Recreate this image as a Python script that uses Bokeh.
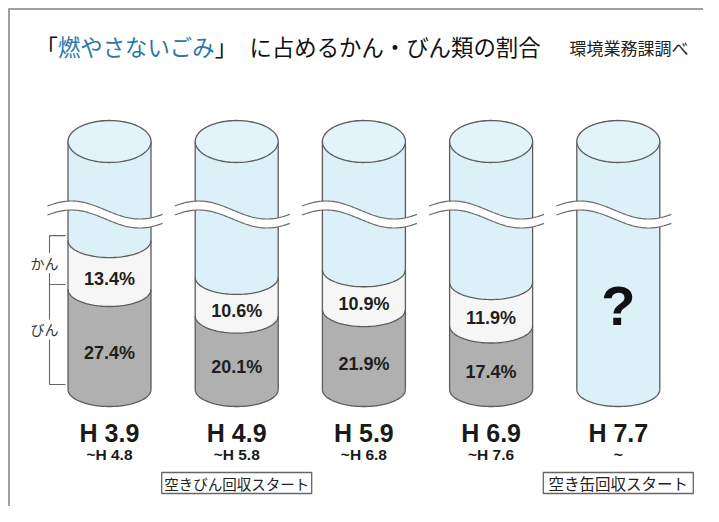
import numpy as np
from bokeh.plotting import figure
from bokeh.models import Range1d
from bokeh.core.properties import value
from bokeh.embed import file_html
from bokeh.resources import INLINE

# ---------------- data ----------------
periods = ["H 3.9", "H 4.9", "H 5.9", "H 6.9", "H 7.7"]
period_ends = ["~H 4.8", "~H 5.8", "~H 6.8", "~H 7.6", "~"]
bin_pct = [27.4, 20.1, 21.9, 17.4]   # びん (bottom, grey)
kan_pct = [13.4, 10.6, 10.9, 11.9]   # かん (middle, white)
notes = ["", "空きびん回収スタート", "", "", "空き缶回収スタート"]
series_labels = ["かん", "びん"]
title_open = "「"
title_blue = "燃やさないごみ"
title_close = "」"
title_rest = "に占めるかん・びん類の割合"
source_text = "環境業務課調べ"
unknown_text = "?"

# ---------------- layout ----------------
W, H = 703, 506
BASE = 389.0   # pixel y of the 0 % level
S = 3.65       # pixels per percent


def V(py):
    return (BASE - np.asarray(py, dtype=float)) / S


JP = value("Noto Sans CJK JP")
NUM = value("Liberation Sans")

BLUE = "#dcf0f8"
TOP_BLUE = "#e2f3fa"
GRAY = "#b0b0b0"
WHITE = "#f6f6f6"
OUT = "#5c5c5c"

p = figure(width=W, height=H, x_range=Range1d(0, W),
           y_range=Range1d(float(V(H)), float(V(0))),
           output_backend="svg", toolbar_location=None, min_border=0,
           x_axis_location=None, y_axis_location=None)
p.grid.visible = False
p.outline_line_color = None
p.background_fill_color = "white"
p.border_fill_color = "white"

CX = [109 + 127.2 * i for i in range(len(periods))]
RX = 41.5
RY = 17.0
RYT = 21.0
VT = float(V(141))
t = np.linspace(0, np.pi, 48)


def front_arc(cx, v, ry=RY):
    return list(cx + RX * np.cos(t)), list(v - (ry / S) * np.sin(t))


body_xs, body_ys = [], []
gray_xs, gray_ys = [], []
white_xs, white_ys = [], []
lxs, lys = [], []
top_xs, top_ys = [], []
wave_xs, wave_ys = [], []
wl_xs, wl_ys = [], []

for i, cx in enumerate(CX):
    ax, ay = front_arc(cx, 0.0)
    body_xs.append(ax + [cx - RX, cx + RX])
    body_ys.append(ay + [VT, VT])
    lxs += [[cx - RX, cx - RX], [cx + RX, cx + RX], ax]
    lys += [[0.0, VT], [0.0, VT], ay]
    if i < len(bin_pct):
        b, k = bin_pct[i], kan_pct[i]
        bx, by = front_arc(cx, b)
        kx, ky = front_arc(cx, b + k)
        gray_xs.append(ax + bx[::-1])
        gray_ys.append(ay + by[::-1])
        white_xs.append(bx + kx[::-1])
        white_ys.append(by + ky[::-1])
        lxs += [bx, kx]
        lys += [by, ky]
    tt = np.linspace(0, 2 * np.pi, 96)
    top_xs.append(list(cx + RX * np.cos(tt)))
    top_ys.append(list(VT + (RYT / S) * np.sin(tt)))
    # wavy break band
    xw = np.linspace(cx - 62, cx + 53, 80)
    yc = 214 - 9 * np.cos(2 * np.pi * (xw - (cx - 38)) / 136)
    up = V(yc - 4.5)
    lo = V(yc + 4.5)
    wave_xs.append(list(xw) + list(xw[::-1]))
    wave_ys.append(list(up) + list(lo[::-1]))
    wl_xs += [list(xw), list(xw)]
    wl_ys += [list(up), list(lo)]

p.patches(body_xs, body_ys, fill_color=BLUE, line_color=None)
p.patches(gray_xs, gray_ys, fill_color=GRAY, line_color=None)
p.patches(white_xs, white_ys, fill_color=WHITE, line_color=None)
p.multi_line(lxs, lys, line_color=OUT, line_width=1.3)
p.patches(top_xs, top_ys, fill_color=TOP_BLUE, line_color=OUT, line_width=1.3)
p.patches(wave_xs, wave_ys, fill_color="white", line_color=None)
p.multi_line(wl_xs, wl_ys, line_color="#6a6a6a", line_width=1.2)

# percentage labels
lab_x, lab_y, lab_t = [], [], []
for i in range(len(bin_pct)):
    b, k = bin_pct[i], kan_pct[i]
    lab_x += [CX[i], CX[i]]
    lab_y += [b + k / 2 - 14 / S, b / 2 - 14 / S]
    lab_t += [f"{k}%", f"{b}%"]
p.text(x=lab_x, y=lab_y, text=lab_t, text_font=NUM, text_font_style="bold",
       text_font_size="18px", text_color="#1e1e1e", text_align="center",
       text_baseline="middle")

# unknown mark
p.text(x=[CX[-1]], y=[float(V(305))], text=[unknown_text], text_font=NUM,
       text_font_style="bold", text_font_size="56px", text_color="#111111",
       text_align="center", text_baseline="middle")

# bracket on the left
off = 5 / S
lev_top = bin_pct[0] + kan_pct[0] + off
lev_mid = bin_pct[0] + off
lev_bot = 0 + off
bx0, bx1 = 49, 65
y_kan = (lev_top + lev_mid) / 2 - 3 / S
y_bin = (lev_mid + lev_bot) / 2 + 5 / S
g = 10 / S
p.multi_line(
    [[bx1, bx0, bx0], [bx0, bx0, bx1, bx0, bx0], [bx0, bx0, bx1]],
    [[lev_top, lev_top, y_kan + g], [y_kan - g, lev_mid, lev_mid, lev_mid, y_bin + g],
     [y_bin - g, lev_bot, lev_bot]],
    line_color="#666666", line_width=1.1)
p.text(x=[44, 44], y=[y_kan, y_bin], text=series_labels, text_font=JP,
       text_font_size="14px", text_color="#333333", text_align="center",
       text_baseline="middle")

# period labels
p.text(x=CX, y=[float(V(432))] * len(CX), text=periods, text_font=NUM,
       text_font_style="bold", text_font_size="25px", text_color="#1a1a1a",
       text_align="center", text_baseline="middle")
p.text(x=CX, y=[float(V(454))] * len(CX), text=period_ends, text_font=NUM,
       text_font_style="bold", text_font_size="15.5px", text_color="#1a1a1a",
       text_align="center", text_baseline="middle")

# note boxes
nx = [CX[i] for i, n in enumerate(notes) if n]
nt = [n for n in notes if n]
nfs = ["14.5px" if len(n) >= 10 else "15.5px" for n in nt]
p.quad(left=[x - 75 for x in nx], right=[x + 75 for x in nx],
       top=[float(V(472))] * len(nx), bottom=[float(V(493))] * len(nx),
       fill_color="white", line_color="#666666", line_width=1.3)
for x, n, f in zip(nx, nt, nfs):
    p.text(x=[x], y=[float(V(482.5))], text=[n], text_font=JP,
           text_font_size=f, text_color="#222222", text_align="center",
           text_baseline="middle")

# title
ty = float(V(45))
fs = 22.4
p.text(x=[35], y=[ty], text=[title_open], text_font=JP, text_font_size=f"{fs}px",
       text_color="#111111", text_align="left", text_baseline="middle")
p.text(x=[35 + fs], y=[ty], text=[title_blue], text_font=JP, text_font_size=f"{fs}px",
       text_color="#2a78aa", text_align="left", text_baseline="middle")
p.text(x=[35 + fs * 8], y=[ty], text=[title_close], text_font=JP, text_font_size=f"{fs}px",
       text_color="#111111", text_align="left", text_baseline="middle")
p.text(x=[249], y=[ty], text=[title_rest], text_font=JP, text_font_size=f"{fs}px",
       text_color="#111111", text_align="left", text_baseline="middle")
p.text(x=[569], y=[float(V(47))], text=[source_text], text_font=JP,
       text_font_size="17px", text_color="#222222", text_align="left",
       text_baseline="middle")

# frame (top and left rules)
p.line([8.5, 8.5], [float(V(8)), float(V(H))], line_color="#a0a0a0", line_width=2)
p.line([8, W], [float(V(8.5)), float(V(8.5))], line_color="#a0a0a0", line_width=2)

open("out.html", "w").write(file_html(p, INLINE))
